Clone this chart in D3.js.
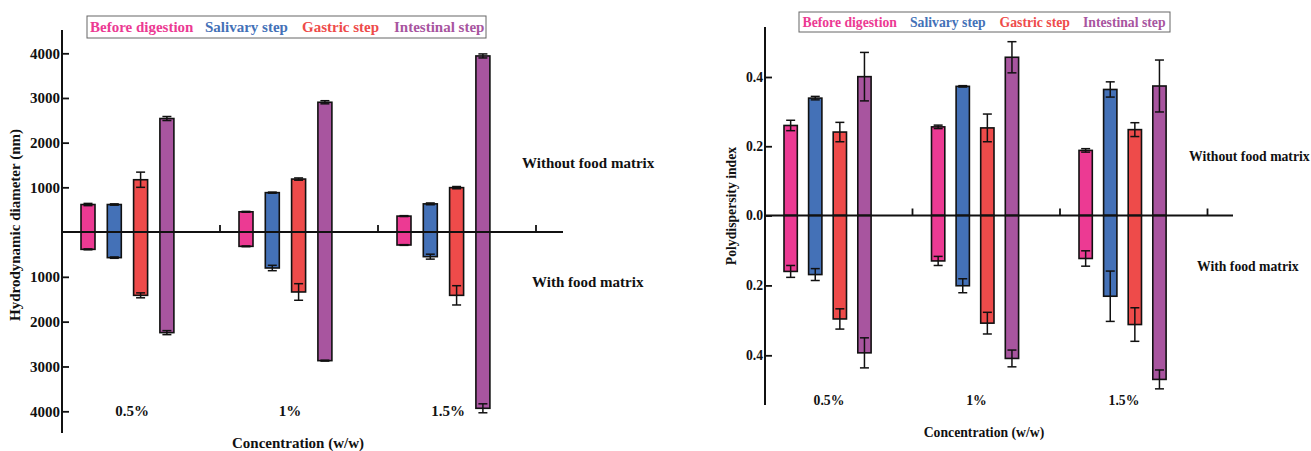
<!DOCTYPE html>
<html><head><meta charset="utf-8">
<script src="https://cdn.jsdelivr.net/npm/d3@7"></script>
<style>
body{margin:0;background:#fff}
svg{display:block}
text{font-family:"Liberation Serif","Times New Roman",serif;font-weight:bold}
</style>
</head><body>
<svg id="c" width="1311" height="451"></svg>
<script>
// ---------- shared ----------
const categories = ["0.5%", "1%", "1.5%"];
const seriesNames = ["Before digestion", "Salivary step", "Gastric step", "Intestinal step"];
const seriesColors = ["#ec3a93", "#4471b7", "#ee4b4a", "#a8559f"];

// ---------- left panel: hydrodynamic diameter (nm) ----------
const sizeTicks = [1000, 2000, 3000, 4000];
// without food matrix (upper half)
const sizeWithoutBefore     = [615, 452, 356];
const sizeWithoutSalivary   = [615, 881, 630];
const sizeWithoutGastric    = [1170, 1185, 993];
const sizeWithoutIntestinal = [2540, 2904, 3941];
const sizeWithoutBeforeErr     = [25, 10, 10];
const sizeWithoutSalivaryErr   = [15, 12, 20];
const sizeWithoutGastricErr    = [170, 25, 25];
const sizeWithoutIntestinalErr = [45, 35, 45];
// with food matrix (lower half)
const sizeWithBefore     = [387, 320, 290];
const sizeWithSalivary   = [572, 803, 550];
const sizeWithGastric    = [1413, 1338, 1413];
const sizeWithIntestinal = [2245, 2870, 3933];
const sizeWithBeforeErr     = [10, 8, 8];
const sizeWithSalivaryErr   = [15, 60, 55];
const sizeWithGastricErr    = [55, 185, 215];
const sizeWithIntestinalErr = [45, 10, 100];

// ---------- right panel: polydispersity index ----------
const pdiTopTicks = [0, 0.2, 0.4];
const pdiBottomTicks = [0.2, 0.4];
const pdiWithoutBefore     = [0.260, 0.256, 0.188];
const pdiWithoutSalivary   = [0.339, 0.373, 0.364];
const pdiWithoutGastric    = [0.241, 0.253, 0.248];
const pdiWithoutIntestinal = [0.401, 0.457, 0.374];
const pdiWithoutBeforeErr     = [0.015, 0.005, 0.005];
const pdiWithoutSalivaryErr   = [0.005, 0.002, 0.022];
const pdiWithoutGastricErr    = [0.028, 0.040, 0.020];
const pdiWithoutIntestinalErr = [0.070, 0.045, 0.075];
const pdiWithBefore     = [0.160, 0.130, 0.123];
const pdiWithSalivary   = [0.169, 0.201, 0.231];
const pdiWithGastric    = [0.296, 0.308, 0.312];
const pdiWithIntestinal = [0.393, 0.409, 0.469];
const pdiWithBeforeErr     = [0.017, 0.013, 0.022];
const pdiWithSalivaryErr   = [0.017, 0.020, 0.072];
const pdiWithGastricErr    = [0.029, 0.031, 0.048];
const pdiWithIntestinalErr = [0.043, 0.024, 0.027];

const svg = d3.select("#c");
svg.append("rect").attr("width", 1311).attr("height", 451).attr("fill", "#fff");

function txt(g, s, x, y, fs, opts = {}) {
  const t = g.append("text").attr("x", x).attr("y", y).attr("font-size", fs)
    .attr("fill", opts.fill || "#111").attr("text-anchor", opts.anchor || "start").text(s);
  if (opts.rotate) t.attr("transform", `rotate(${opts.rotate},${x},${y})`);
  return t;
}

function drawPanel(p) {
  const g = svg.append("g");
  const x0 = d3.scaleBand().domain(categories).range([p.axisX, p.axisX + 3 * p.band]).padding(0);
  const x1 = d3.scaleBand().domain(seriesNames)
    .range([p.barOffset, p.barOffset + 3 * p.barStep + p.barW])
    .paddingInner(1 - p.barW / p.barStep).paddingOuter(0);
  const yT = d3.scaleLinear().domain(p.domain).range([p.zeroY, p.topY]);
  const yB = d3.scaleLinear().domain(p.domain).range([p.zeroY, p.botY]);

  const rows = [];
  seriesNames.forEach((s, si) => {
    categories.forEach((c, ci) => {
      rows.push({s, si, c, v: p.without[si][ci], e: p.withoutErr[si][ci], half: "top"});
      rows.push({s, si, c, v: p.with[si][ci], e: p.withErr[si][ci], half: "bot"});
    });
  });

  g.selectAll("rect.bar").data(rows).join("rect").attr("class", "bar")
    .attr("x", d => x0(d.c) + x1(d.s))
    .attr("width", x1.bandwidth())
    .attr("y", d => d.half === "top" ? yT(d.v) : p.zeroY)
    .attr("height", d => d.half === "top" ? p.zeroY - yT(d.v) : yB(d.v) - p.zeroY)
    .attr("fill", d => seriesColors[d.si])
    .attr("stroke", "#111").attr("stroke-width", 1.6);

  const eb = g.selectAll("g.err").data(rows).join("g").attr("class", "err")
    .attr("stroke", "#111").attr("stroke-width", 1.5);
  eb.each(function (d) {
    const sc = d.half === "top" ? yT : yB;
    const cx = x0(d.c) + x1(d.s) + x1.bandwidth() / 2;
    const y1 = sc(d.v + d.e), y2 = sc(d.v - d.e);
    const el = d3.select(this);
    el.append("line").attr("x1", cx).attr("x2", cx).attr("y1", y1).attr("y2", y2);
    el.append("line").attr("x1", cx - p.cap / 2).attr("x2", cx + p.cap / 2).attr("y1", y1).attr("y2", y1);
    el.append("line").attr("x1", cx - p.cap / 2).attr("x2", cx + p.cap / 2).attr("y1", y2).attr("y2", y2);
  });

  // y axes (top & bottom halves)
  const styleAxis = a => {
    a.select(".domain").remove();
    a.selectAll("line").attr("stroke", "#111").attr("stroke-width", 1.8);
    a.selectAll("text").attr("font-size", p.fs).attr("fill", "#111")
      .attr("font-family", '"Liberation Serif","Times New Roman",serif').attr("font-weight", "bold");
    a.attr("font-family", null).attr("font-size", null);
  };
  const axT = g.append("g").attr("transform", `translate(${p.axisX},0)`)
    .call(d3.axisLeft(yT).tickValues(p.topTicks).tickSizeInner(-7).tickSizeOuter(0).tickPadding(2).tickFormat(p.fmt));
  styleAxis(axT);
  const axB = g.append("g").attr("transform", `translate(${p.axisX},0)`)
    .call(d3.axisLeft(yB).tickValues(p.botTicks).tickSizeInner(-7).tickSizeOuter(0).tickPadding(2).tickFormat(p.fmt));
  styleAxis(axB);

  // axis lines
  g.append("line").attr("x1", p.axisX).attr("x2", p.axisX).attr("y1", p.axisTop).attr("y2", p.axisBottom)
    .attr("stroke", "#111").attr("stroke-width", 2);
  g.append("line").attr("x1", p.axisX).attr("x2", p.xEnd).attr("y1", p.zeroY).attr("y2", p.zeroY)
    .attr("stroke", "#111").attr("stroke-width", 2);
  // category separators (ticks up)
  g.selectAll("line.ct").data(categories).join("line").attr("class", "ct")
    .attr("x1", c => x0(c) + x0.bandwidth()).attr("x2", c => x0(c) + x0.bandwidth())
    .attr("y1", p.zeroY).attr("y2", p.zeroY - 7).attr("stroke", "#111").attr("stroke-width", 1.8);
  // category labels
  categories.forEach(c => txt(g, c, x0(c) + p.labelDx, p.labelY, p.fs, {anchor: "middle"}));

  // titles
  txt(g, "Concentration (w/w)", p.xTitleX, p.xTitleY, p.fs, {anchor: "middle"});
  txt(g, p.yTitle, p.yTitleX, p.yTitleY, p.fs, {anchor: "middle", rotate: -90});
  txt(g, "Without food matrix", p.wo[0], p.wo[1], p.fs);
  txt(g, "With food matrix", p.wi[0], p.wi[1], p.fs);

  // legend
  g.append("rect").attr("x", p.leg[0]).attr("y", p.leg[1]).attr("width", p.leg[2]).attr("height", p.leg[3])
    .attr("fill", "none").attr("stroke", "#666").attr("stroke-width", 1);
  seriesNames.forEach((s, i) => txt(g, s, p.legX[i], p.legY, p.fs, {fill: seriesColors[i]}));
}

drawPanel({
  axisX: 62, band: 158, barOffset: 19, barStep: 26.3, barW: 14, cap: 9,
  zeroY: 232, topY: 53.3, botY: 411.3, domain: [0, 4000],
  axisTop: 30, axisBottom: 433, xEnd: 563,
  topTicks: sizeTicks, botTicks: sizeTicks, fmt: d3.format("d"),
  without: [sizeWithoutBefore, sizeWithoutSalivary, sizeWithoutGastric, sizeWithoutIntestinal],
  withoutErr: [sizeWithoutBeforeErr, sizeWithoutSalivaryErr, sizeWithoutGastricErr, sizeWithoutIntestinalErr],
  with: [sizeWithBefore, sizeWithSalivary, sizeWithGastric, sizeWithIntestinal],
  withErr: [sizeWithBeforeErr, sizeWithSalivaryErr, sizeWithGastricErr, sizeWithIntestinalErr],
  fs: 15, labelDx: 70, labelY: 416,
  xTitleX: 298, xTitleY: 448,
  yTitle: "Hydrodynamic diameter (nm)", yTitleX: 20, yTitleY: 225,
  wo: [522, 168], wi: [532, 287],
  leg: [87, 16, 399, 22], legX: [90, 205, 302, 394], legY: 32
});

drawPanel({
  axisX: 765, band: 147.5, barOffset: 19, barStep: 24.6, barW: 13.3, cap: 9,
  zeroY: 215.5, topY: 77, botY: 355.3, domain: [0, 0.4],
  axisTop: 27, axisBottom: 405, xEnd: 1233,
  topTicks: pdiTopTicks, botTicks: pdiBottomTicks, fmt: d3.format(".1f"),
  without: [pdiWithoutBefore, pdiWithoutSalivary, pdiWithoutGastric, pdiWithoutIntestinal],
  withoutErr: [pdiWithoutBeforeErr, pdiWithoutSalivaryErr, pdiWithoutGastricErr, pdiWithoutIntestinalErr],
  with: [pdiWithBefore, pdiWithSalivary, pdiWithGastric, pdiWithIntestinal],
  withErr: [pdiWithBeforeErr, pdiWithSalivaryErr, pdiWithGastricErr, pdiWithIntestinalErr],
  fs: 13.7, labelDx: 64, labelY: 405,
  xTitleX: 984, xTitleY: 437,
  yTitle: "Polydispersity index", yTitleX: 736, yTitleY: 206,
  wo: [1189, 161], wi: [1197, 271],
  leg: [799, 12, 371, 20], legX: [802.5, 910, 999.6, 1083], legY: 27
});
</script>
</body></html>
